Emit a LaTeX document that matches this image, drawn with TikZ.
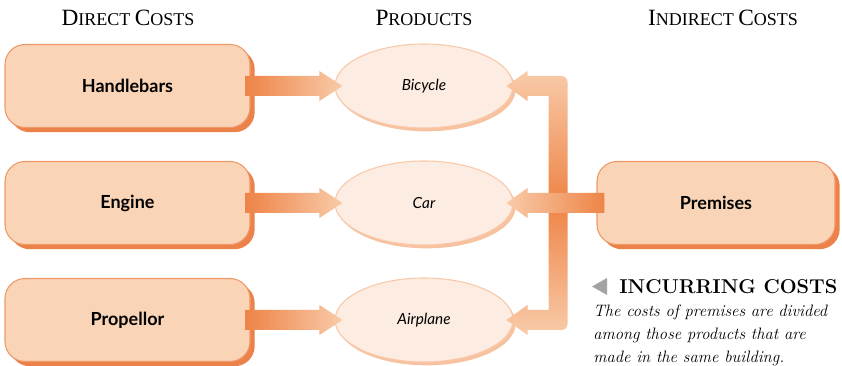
\documentclass[tikz,border=0pt]{standalone}
\usepackage{fontspec}
\newfontfamily\boxfont{Lato}
\newfontfamily\headfont{Liberation Serif}
\usetikzlibrary{shapes.geometric,shadows,calc}

\definecolor{boxfill}{HTML}{F9D4B6}
\definecolor{boxline}{HTML}{EF9868}
\definecolor{boxshadow}{HTML}{EC8149}
\definecolor{ellfill}{HTML}{FDECE1}
\definecolor{ellline}{HTML}{F8C8A8}
\definecolor{ellshadow}{HTML}{F6C29F}
\definecolor{arrowdark}{HTML}{EE8446}
\definecolor{arrowlight}{HTML}{F8CBA9}
\definecolor{markgray}{HTML}{A3A3A3}

% fake small caps for the column headings
\newcommand{\headcap}[1]{{\fontsize{17.5}{19}\selectfont #1}}

\tikzset{
  costbox/.style={rectangle, rounded corners=15pt, draw=boxline, line width=0.8pt,
    fill=boxfill, minimum width=183.75pt, minimum height=62.25pt,
    font={\boxfont\bfseries\fontsize{13.5}{16}\selectfont},
    drop shadow={shadow xshift=3.5pt, shadow yshift=-3.5pt, fill=boxshadow, opacity=1}},
  product/.style={ellipse, draw=ellline, line width=0.8pt, fill=ellfill,
    minimum width=133.5pt, minimum height=63pt,
    font={\boxfont\itshape\fontsize{11.5}{14}\selectfont},
    drop shadow={shadow xshift=2pt, shadow yshift=-2.5pt, fill=ellshadow, opacity=1}},
  heading/.style={font={\headfont\fontsize{13.5}{19}\selectfont}},
  rarrow/.style={left color=arrowdark, right color=arrowlight},
  larrow/.style={left color=arrowlight, right color=arrowdark},
}

\begin{document}
\begin{tikzpicture}[x=0.75pt,y=-0.75pt]
\useasboundingbox (0,0) rectangle (842,366);

% column headings
\node[heading] (hdirect) at (128,18) {\headcap{D}IRECT \headcap{C}OSTS};
\node[heading] (hprod) at (424,18) {\headcap{P}RODUCTS};
\node[heading] (hindirect) at (723,18) {\headcap{I}NDIRECT \headcap{C}OSTS};

% direct costs and products
\node[costbox] (hb) at (127.5,86) {Handlebars};
\node[costbox] (eng) at (127.5,203) {Engine};
\node[costbox] (prop) at (127.5,320) {Propellor};
\node[product] (bike) at (424,86) {Bicycle};
\node[product] (car) at (424,203) {Car};
\node[product] (plane) at (424,320) {Airplane};
\node[costbox, minimum width=178.5pt] (prem) at (716,203) {Premises};

% direct cost arrows
\foreach \src/\dst in {hb/bike, eng/car, prop/plane}
  \shade[rarrow] ($(\src.east)+(-5,-10)$) -- ($(\dst.west)+(-15,-10)$) -- ++(0,-5)
    -- ($(\dst.west)+(8,0)$) -- ++(-23,15) -- ++(0,-5) -- ($(\src.east)+(-5,10)$) -- cycle;

% shared premises bracket
\coordinate (tb) at ($(bike.east)+(-7,0)$);
\coordinate (tc) at ($(car.east)+(-7,0)$);
\coordinate (ta) at ($(plane.east)+(-7,0)$);
\shade[top color=arrowlight, bottom color=arrowlight, middle color=arrowdark]
  (tb) -- ++(21,-15) -- ++(0,5) -- ++(34,0) arc[start angle=-90, end angle=0, radius=6]
  -- ($(ta)+(61,4)$) arc[start angle=0, end angle=90, radius=6]
  -- ($(ta)+(21,10)$) -- ++(0,5) -- (ta) -- ++(21,-15) -- ++(0,5)
  -- ($(ta)+(42,-10)$) -- ($(tb)+(42,10)$) -- ($(tb)+(21,10)$) -- ++(0,5) -- cycle;
\shade[larrow] ($(prem.west)+(8,-10)$) -- ($(tc)+(21,-10)$) -- ++(0,-5) -- (tc)
  -- ++(21,15) -- ++(0,-5) -- ($(prem.west)+(8,10)$) -- cycle;

% caption
\fill[markgray] (592,286.5) -- (607,278) -- (607,295) -- cycle;
\node[anchor=west, inner sep=0pt, font=\bfseries\fontsize{15}{17}\selectfont] (inctitle) at (619,287) {INCURRING COSTS};
\node[anchor=north west, align=left, inner sep=0pt, font=\itshape\fontsize{12.4}{17}\selectfont] (inctext) at (593,305)
  {The costs of premises are divided\\among those products that are\\made in the same building.};
\end{tikzpicture}
\end{document}
